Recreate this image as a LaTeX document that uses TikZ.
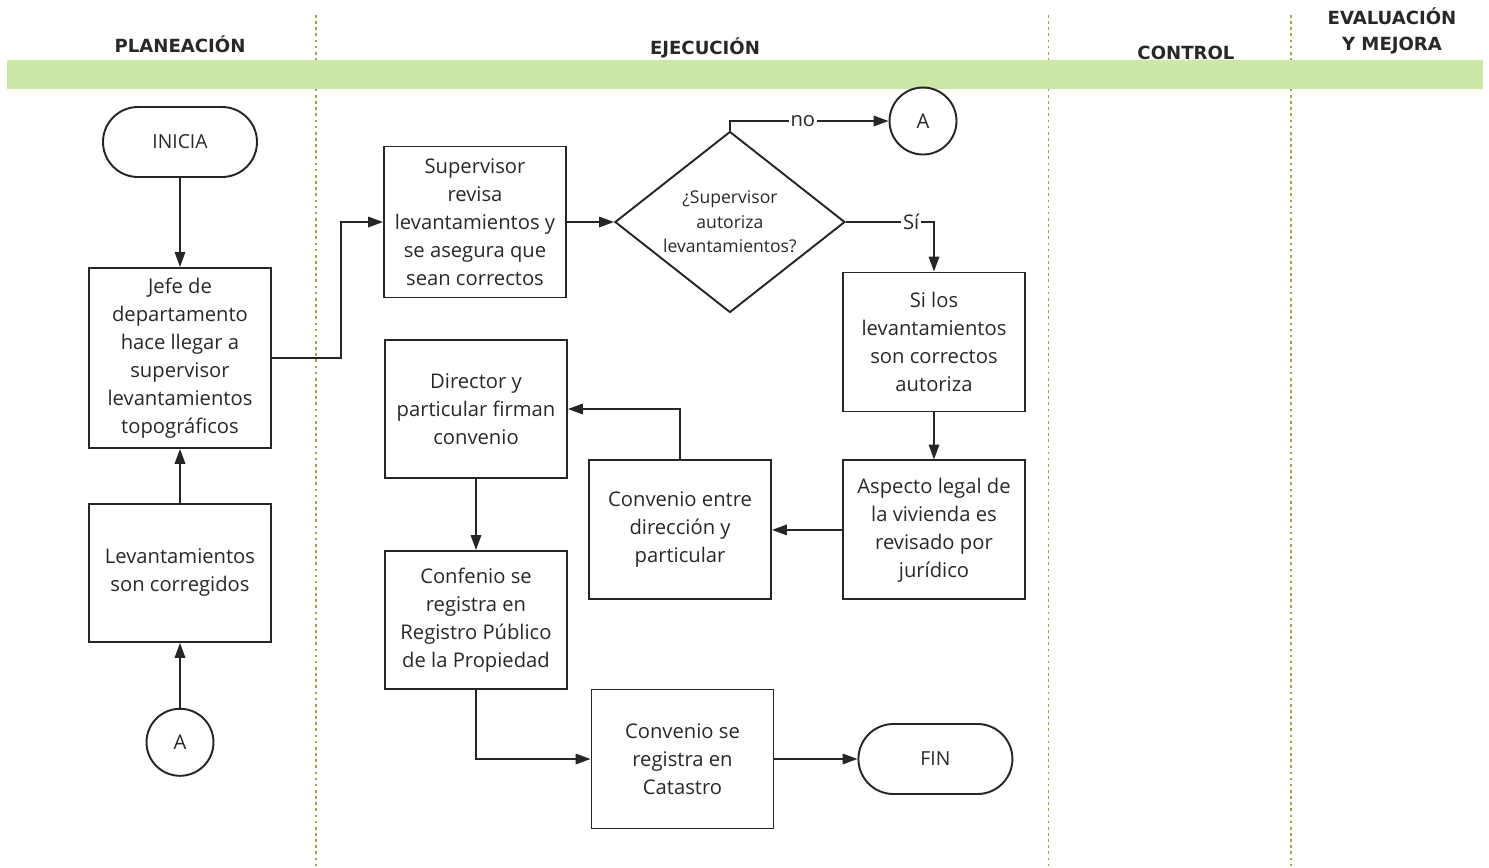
\documentclass[tikz,border=0pt]{standalone}
\usepackage{fontspec}
\setmainfont{Open Sans}
\newfontfamily\headfont{DejaVu Sans}
\usetikzlibrary{shapes.geometric,arrows.meta,positioning}

\definecolor{bandgreen}{RGB}{204,231,166}
\definecolor{laneline}{RGB}{165,160,80}
\definecolor{inkgray}{RGB}{40,40,40}

\begin{document}
\begin{tikzpicture}[
  font=\fontsize{11.5}{15.9}\selectfont,
  >={Triangle[length=8.5pt,width=6pt]},
  lane/.style={draw=laneline, line width=0.9pt, dash pattern=on 1.5pt off 2pt},
  lanetitle/.style={font=\headfont\bfseries\fontsize{10.3}{14.6}\selectfont,
                    text=inkgray, align=center},
  term/.style={rectangle, rounded corners=0.7cm, draw=black!85, line width=1.1pt,
               minimum width=3.08cm, minimum height=1.4cm,
               font=\fontsize{11}{13}\selectfont, text=inkgray},
  proc/.style={rectangle, draw=black!85, line width=1.1pt, minimum width=3.64cm,
               align=center, inner sep=2pt, text=inkgray},
  dec/.style={diamond, draw=black!85, line width=1.1pt, aspect=1.27, inner sep=0pt,
              minimum width=4.6cm, minimum height=3.62cm, align=center,
              font=\fontsize{10}{14}\selectfont, text=inkgray},
  conn/.style={circle, draw=black!85, line width=1.1pt, minimum size=1.34cm,
               inner sep=0pt, text=inkgray},
  link/.style={->, line width=0.9pt, draw=black!85},
  lbl/.style={fill=white, inner sep=1pt, text=inkgray},
]
\useasboundingbox (0,0) rectangle (29.78,-17.34);

% carriles
\foreach \x in {6.32,20.97,25.82}
  \draw[lane] (\x,-0.3) -- (\x,-17.34);
\fill[bandgreen] (0.14,-1.2) rectangle (29.66,-1.78);

\node[lanetitle] (tplan) at (3.6,-0.88)   {PLANEACIÓN};
\node[lanetitle] (tejec) at (14.1,-0.96)  {EJECUCIÓN};
\node[lanetitle] (tctrl) at (23.72,-1.06) {CONTROL};
\node[lanetitle] (teval) at (27.84,-0.62) {EVALUACIÓN\\Y MEJORA};

% planeacion
\node[term] (ini) at (3.6,-2.84) {INICIA};
\node[proc, minimum height=3.6cm, below=1.78cm of ini] (jefe)
  {Jefe de\\departamento\\hace llegar a\\supervisor\\levantamientos\\topográficos};
\node[proc, minimum height=2.76cm, below=1.08cm of jefe] (corr)
  {Levantamientos\\son corregidos};
\node[conn, below=1.3cm of corr] (conA) {A};

% ejecucion
\node[proc, minimum height=3.02cm] (revisa) at (9.5,-4.44)
  {Supervisor\\revisa\\levantamientos y\\se asegura que\\sean correctos};
\node[dec, right=0.94cm of revisa] (autoriza)
  {¿Supervisor\\autoriza\\levantamientos?};
\node[conn] (conB) at (18.46,-2.42) {A};
\node[proc, minimum height=2.78cm] (silos) at (18.68,-6.84)
  {Si los\\levantamientos\\son correctos\\autoriza};
\node[proc, minimum height=2.78cm, below=0.94cm of silos] (legal)
  {Aspecto legal de\\la vivienda es\\revisado por\\jurídico};
\node[proc, minimum height=2.78cm, left=1.4cm of legal] (conv)
  {Convenio entre\\dirección y\\particular};
\node[proc, minimum height=2.76cm] (firma) at (9.52,-8.18)
  {Director y\\particular firman\\convenio};
\node[proc, minimum height=2.76cm, below=1.42cm of firma] (rpp)
  {Confenio se\\registra en\\Registro Público\\de la Propiedad};
\node[proc, minimum height=2.78cm] (catastro) at (13.65,-15.18)
  {Convenio se\\registra en\\Catastro};
\node[term, right=1.66cm of catastro] (fin) {FIN};

\draw[link] (ini) -- (jefe);
\draw[link] (corr) -- (jefe);
\draw[link] (conA) -- (corr);
\draw[link] (jefe.east) -- ++(1.38,0) |- (revisa.west);
\draw[link] (revisa) -- (autoriza);
\draw[link] (autoriza.north) |- node[lbl, pos=0.73]{no} (conB.west);
\draw[link] (autoriza.east) -| node[lbl, pos=0.37]{Sí} (silos.north);
\draw[link] (silos) -- (legal);
\draw[link] (legal) -- (conv);
\draw[link] (conv.north) |- (firma.east);
\draw[link] (firma) -- (rpp);
\draw[link] (rpp.south) |- (catastro.west);
\draw[link] (catastro) -- (fin);

\end{tikzpicture}
\end{document}
